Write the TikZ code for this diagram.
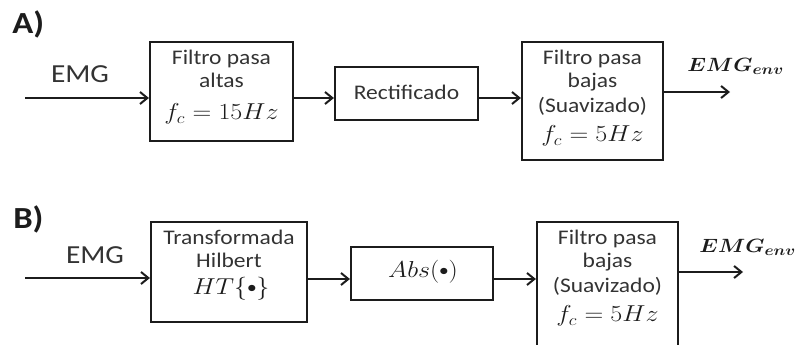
\documentclass[tikz,border=0pt]{standalone}
\usepackage{fontspec}
\setmainfont{Carlito}[FakeStretch=1.13]
\usepackage{bm}
\usepackage{graphicx}
\usetikzlibrary{arrows.meta,fit}

\definecolor{linec}{HTML}{1C1C1C}
\definecolor{textc}{HTML}{333333}
\newcommand{\hstretch}[1]{\scalebox{1.13}[1]{#1}}
\newcommand{\sbul}{\mathord{\vcenter{\hbox{\scalebox{0.7}{$\bullet$}}}}}

\tikzset{
  blk/.style={draw=linec, line width=1.6pt, inner sep=0pt, fit={#1}},
  conn/.style={draw=linec, line width=1.5pt,
    -{Straight Barb[length=5.5pt,width=9pt]}},
  txt/.style={text=textc, inner sep=0pt, anchor=base,
    font=\fontsize{15.6}{18}\selectfont},
  mth/.style={text=linec, inner sep=0pt, anchor=base,
    font=\fontsize{16.5}{18}\selectfont},
  lbl/.style={text=textc, inner sep=0pt, anchor=base,
    font=\fontsize{19.5}{22}\selectfont},
  outlbl/.style={text=linec, inner sep=0pt, anchor=base west,
    font=\fontsize{15.5}{18}\selectfont},
  tag/.style={text=linec, inner sep=0pt, anchor=base west,
    font=\fontsize{23}{25}\selectfont\bfseries},
}

\begin{document}
\begin{tikzpicture}[x=0.75pt, y=-0.75pt]
\path[use as bounding box, clip] (0,0) rectangle (800,345);

% ---------- A) envelope by filtering ----------
\node[tag] (tagA) at (12,34) {A)};

\node[blk={(150,42) (293,141)}] (a1) {};
\node[blk={(335,67) (478,120)}] (a2) {};
\node[blk={(522,42) (663,160)}] (a3) {};

\coordinate (ya) at (0,98);
\coordinate (inA) at (25,98);
\coordinate (outA) at (730,92);

\node[lbl] (emgA) at (80,83) {EMG};
\node[txt] (a1t1) at (221.5,65) {Filtro pasa};
\node[txt] (a1t2) at (221.5,88) {altas};
\node[mth] (a1m) at (221.5,120) {\hstretch{$f_c = 15Hz$}};

\node[txt] (a2t) at (406.5,100) {Rectificado};

\node[txt] (a3t1) at (592.5,65) {Filtro pasa};
\node[txt] (a3t2) at (592.5,88) {bajas};
\node[txt] (a3t3) at (592.5,113) {(Suavizado)};
\node[mth] (a3m) at (592.5,142) {\hstretch{$f_c = 5Hz$}};

\node[outlbl] (envA) at (687,72) {\hstretch{$\bm{EMG_{env}}$}};

\draw[conn] (inA) -- (inA -| a1.west);
\draw[conn] (a1.east |- ya) -- (a2.west |- ya);
\draw[conn] (a2.east |- ya) -- (a3.west |- ya);
\draw[conn] (a3.east |- outA) -- (outA);

% ---------- B) envelope by Hilbert transform ----------
\node[tag] (tagB) at (13,229) {B)};

\node[blk={(151,222) (307,322)}] (b1) {};
\node[blk={(351,247) (493,300)}] (b2) {};
\node[blk={(537,222) (678,352)}] (b3) {};

\coordinate (yb) at (0,279);
\coordinate (inB) at (25,278);
\coordinate (outB) at (743,272);

\node[lbl] (emgB) at (95,264) {EMG};
\node[txt] (b1t1) at (229,245) {Transformada};
\node[txt] (b1t2) at (229,268) {Hilbert};
\node[mth] (b1m) at (231,295) {\hstretch{$HT\{\sbul\}$}};

\node[mth] (b2m) at (423,278) {\hstretch{$Abs(\sbul)$}};

\node[txt] (b3t1) at (607.5,245) {Filtro pasa};
\node[txt] (b3t2) at (607.5,268) {bajas};
\node[txt] (b3t3) at (607.5,293) {(Suavizado)};
\node[mth] (b3m) at (607.5,322) {\hstretch{$f_c = 5Hz$}};

\node[outlbl] (envB) at (699,253) {\hstretch{$\bm{EMG_{env}}$}};

\draw[conn] (inB) -- (inB -| b1.west);
\draw[conn] (b1.east |- yb) -- (b2.west |- yb);
\draw[conn] (b2.east |- yb) -- (b3.west |- yb);
\draw[conn] (b3.east |- outB) -- (outB);
\end{tikzpicture}
\end{document}
